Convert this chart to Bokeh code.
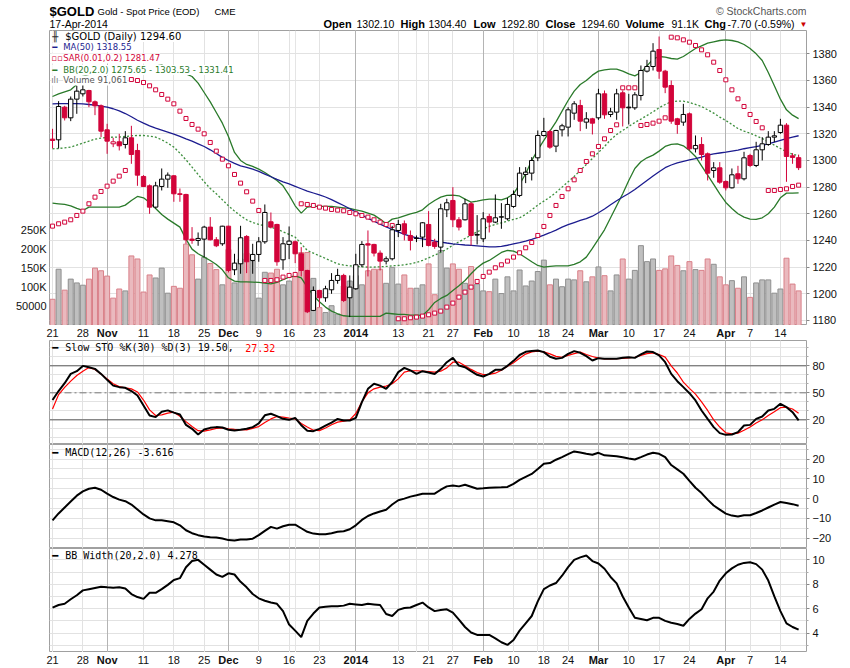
from bokeh.plotting import figure
from bokeh.models import Range1d, LinearAxis, FixedTicker, Label, Grid, Span
from bokeh.layouts import column
from bokeh.embed import file_html
from bokeh.resources import INLINE

# ---------------- data ----------------
opens = [1316, 1315.5, 1340, 1332, 1346, 1350, 1352.5, 1344, 1341, 1323,
         1312.5, 1314, 1312, 1317, 1307.5, 1288, 1281, 1265, 1280.5, 1286,
         1288.5, 1275, 1274.5, 1241, 1240, 1241, 1250, 1240.5, 1237.5, 1250.7,
         1218, 1222.5, 1243, 1225, 1229.5, 1239, 1254, 1252, 1225.5, 1237,
         1239, 1230, 1217.5, 1187.5, 1202.5, 1197, 1203, 1210, 1213.75, 1197,
         1203.75, 1221.75, 1237.5, 1237, 1230.5, 1224.5, 1226.25, 1247.5, 1252.5, 1243.75,
         1241.5, 1242.5, 1252, 1238.75, 1235, 1263, 1270, 1255.5, 1255.5, 1267.5,
         1244, 1241.25, 1258, 1253.75, 1257.5, 1256.25, 1265.5, 1273.75, 1289.5, 1290.5,
         1302, 1318.75, 1321.75, 1310.75, 1323, 1325, 1335.5, 1341.25, 1328.75, 1331.25,
         1332, 1350, 1334.5, 1336.25, 1350.75, 1339.5, 1339.5, 1348.75, 1367, 1370.5,
         1383.25, 1367, 1356.25, 1331.25, 1328.75, 1335, 1308.75, 1312, 1305, 1292.5,
         1294.5, 1284.25, 1279.5, 1290, 1286.25, 1303.75, 1296.25, 1308, 1312, 1317.5,
         1321, 1326.5, 1303.5, 1302.1]
highs = [1323.75, 1344.5, 1341, 1348, 1356, 1357, 1353, 1345, 1342, 1327.5,
         1317, 1320, 1322, 1326, 1312.5, 1289, 1282, 1284, 1294, 1291,
         1289, 1279, 1275, 1250, 1246, 1251, 1257.5, 1242.5, 1251, 1251,
         1230, 1251, 1244, 1237.5, 1242.5, 1267, 1261, 1252.5, 1242.5, 1250.5,
         1240, 1235, 1218, 1205.5, 1203, 1206, 1215.5, 1218.75, 1215, 1213.75,
         1230, 1239.5, 1247.5, 1237.5, 1232.5, 1228, 1251, 1255.5, 1255, 1247.5,
         1243.75, 1253.75, 1262, 1241.25, 1267.5, 1271.25, 1280, 1257.5, 1271.25, 1268.75,
         1259, 1261.25, 1260, 1274.5, 1268, 1272, 1277.5, 1295, 1295, 1302.5,
         1322.5, 1332, 1323, 1323, 1327.5, 1340, 1344.5, 1345.5, 1336.25, 1332,
         1353.75, 1352.5, 1339.5, 1353.75, 1352.5, 1350, 1351.25, 1371.25, 1375.5, 1388,
         1393, 1368, 1360, 1332, 1342.5, 1336, 1318.75, 1317.5, 1306, 1298.75,
         1298.75, 1285, 1294, 1296, 1306.5, 1305, 1314, 1317.5, 1322, 1322,
         1331.25, 1328, 1305.5, 1304.4]
lows = [1309, 1309, 1330, 1329.5, 1335, 1348, 1340, 1334, 1317.5, 1305,
        1310, 1307.5, 1309, 1297.5, 1281, 1280, 1260, 1264, 1277.5, 1279.5,
        1269, 1269, 1237.5, 1237.5, 1236, 1227.5, 1240, 1235, 1236, 1216,
        1214, 1215, 1215.5, 1215, 1224, 1237.5, 1249, 1221, 1218, 1226,
        1223, 1213, 1185.5, 1187, 1190, 1194, 1200, 1207.5, 1193.75, 1182.5,
        1203, 1220, 1213, 1228, 1217.5, 1222, 1225, 1242.5, 1240, 1232.5,
        1238.75, 1235, 1235.5, 1233.75, 1231.25, 1257.5, 1250, 1247.5, 1255, 1236.25,
        1237, 1238.75, 1246, 1253, 1248.75, 1255, 1264.5, 1272.5, 1283, 1285,
        1299.5, 1318, 1308.75, 1306.25, 1318, 1318, 1330.5, 1322, 1323.75, 1319.5,
        1330.5, 1331.25, 1332.5, 1330.5, 1325.5, 1327, 1338, 1345, 1366, 1367.5,
        1361.25, 1350.5, 1327.5, 1320, 1326, 1307.5, 1306, 1300, 1285, 1287,
        1282.5, 1277.5, 1279, 1282.5, 1285, 1295, 1295, 1300, 1311, 1313.75,
        1320, 1284, 1297.5, 1292.8]
closes = [1315, 1340.5, 1332, 1346, 1352, 1353, 1344, 1341, 1322, 1314.5,
          1314, 1311, 1317, 1304.5, 1289, 1280.5, 1265, 1281, 1286, 1289,
          1275, 1274.5, 1240.5, 1240, 1241.5, 1250, 1240.5, 1236, 1250.7, 1217.5,
          1223, 1242, 1224, 1229.5, 1239, 1261, 1250, 1224, 1237.5, 1239.5,
          1230, 1217.5, 1186.5, 1202.5, 1197, 1203.75, 1210, 1213.75, 1195, 1205,
          1221.75, 1237, 1236.5, 1230.5, 1224.5, 1226.25, 1248, 1252, 1245, 1240,
          1241.75, 1253.25, 1236.25, 1235.5, 1263.75, 1268.25, 1255.5, 1250, 1267.5, 1243.75,
          1244.5, 1256.25, 1253.75, 1257, 1257.75, 1267, 1274.5, 1290.5, 1291.25, 1300,
          1318.75, 1321.75, 1310, 1322.5, 1326, 1338, 1342.5, 1329.5, 1331.25, 1328,
          1350, 1334.25, 1336.5, 1350, 1339.5, 1340, 1349.25, 1367.5, 1370.5, 1382,
          1367, 1355, 1329.5, 1327, 1334.5, 1308.75, 1311.25, 1304.5, 1290.5, 1294.5,
          1283.75, 1279.5, 1289.25, 1286.25, 1302, 1296.25, 1308, 1312.5, 1317.5, 1318.5,
          1326.5, 1303, 1302.3, 1294.6]
volumes = [69000, 148000, 93000, 122000, 112000, 106000, 122000, 151000, 144000, 130000,
           72000, 96000, 91000, 183000, 175000, 88000, 133000, 125000, 151000, 85000,
           103000, 98000, 214000, 186000, 122000, 179000, 163000, 147000, 107000, 200000,
           112000, 175000, 190000, 170000, 72000, 140000, 138000, 148000, 107000, 117000,
           128000, 192000, 192000, 124000, 47000, 34000, 52000, 30000, 104000, 117000,
           131000, 107000, 144000, 148000, 148000, 111000, 153000, 109000, 133000, 98000,
           98000, 107000, 162000, 81000, 197000, 151000, 162000, 148000, 111000, 155000,
           109000, 91000, 89000, 122000, 84000, 128000, 91000, 146000, 104000, 117000,
           142000, 172000, 107000, 122000, 102000, 122000, 120000, 144000, 115000, 128000,
           154000, 131000, 91000, 133000, 175000, 122000, 145000, 210000, 168000, 175000,
           145000, 149000, 183000, 158000, 144000, 168000, 147000, 145000, 175000, 161000,
           128000, 107000, 118000, 98000, 128000, 74000, 112000, 120000, 120000, 85000,
           96000, 177000, 109000, 91061]
ma50 = [1342.5, 1342.6, 1342.7, 1342.7, 1342.6, 1342.4, 1342.0, 1341.5, 1340.8, 1340.0,
        1338.8, 1337.2, 1335.2, 1332.8, 1330.2, 1328.0, 1326.0, 1324.3, 1322.8, 1321.3,
        1319.8, 1318.0, 1316.2, 1314.5, 1312.5, 1310.5, 1308.0, 1305.2, 1302.3, 1300.0,
        1297.8, 1296.0, 1294.8, 1293.5, 1291.8, 1289.8, 1287.8, 1285.8, 1284.0, 1282.4,
        1280.6, 1278.8, 1277.0, 1275.6, 1274.2, 1272.6, 1270.6, 1268.4, 1266.2, 1263.8,
        1261.4, 1259.0, 1256.6, 1254.4, 1252.3, 1250.2, 1248.2, 1246.4, 1244.6, 1243.2,
        1242.0, 1241.2, 1240.4, 1239.5, 1238.8, 1238.1, 1237.5, 1237.0, 1236.6, 1236.3,
        1236.0, 1235.6, 1235.2, 1235.2, 1235.6, 1236.4, 1237.4, 1238.4, 1239.5, 1240.8,
        1242.3, 1244.0, 1245.8, 1247.8, 1250.0, 1251.8, 1253.4, 1255.0, 1256.4, 1258.2,
        1260.8, 1263.6, 1266.8, 1269.8, 1272.6, 1275.2, 1278.2, 1281.6, 1285.0, 1288.3,
        1291.6, 1294.6, 1296.6, 1298.2, 1299.4, 1300.4, 1301.4, 1302.6, 1304.0, 1305.0,
        1305.6, 1306.2, 1307.0, 1307.8, 1308.8, 1309.6, 1310.4, 1311.3, 1312.4, 1313.7,
        1315.0, 1316.3, 1317.5, 1318.55]
sar = [1250.75, 1252.5, 1253.75, 1255.5, 1258.75, 1262, 1267.5, 1272.5, 1276.75, 1280.75,
       1284.5, 1288.25, 1292.5, 1360.7, 1360, 1358.5, 1356, 1353, 1349.5, 1346,
       1342.5, 1337, 1331.5, 1327, 1323.5, 1320, 1313.5, 1307, 1301, 1296,
       1289.5, 1283, 1276.5, 1269.5, 1262.5, 1210, 1210, 1210.5, 1212.5, 1213.75,
       1214.5, 1267.5, 1267, 1266.25, 1265, 1264.25, 1263.25, 1262.75, 1262.25, 1261,
       1260, 1258.75, 1257.5, 1255.5, 1253.75, 1252, 1251.25, 1181.25, 1181.25, 1182,
       1182.5, 1183.25, 1184.25, 1185.5, 1187, 1190, 1193, 1197.5, 1201.25, 1205,
       1209.25, 1213, 1216.25, 1219.5, 1221.75, 1224.5, 1227.5, 1230.75, 1234.5, 1238.5,
       1243.75, 1250.5, 1258.75, 1266.25, 1273, 1278.75, 1285.5, 1292.5, 1299.25, 1305,
       1310.5, 1316.25, 1322.5, 1326.75, 1354.5, 1354.5, 1354.5, 1326.25, 1327, 1328,
       1329.5, 1332, 1392.5, 1392, 1390.5, 1388.75, 1386.25, 1383, 1379.25, 1373.75,
       1367.5, 1360.5, 1353, 1346.25, 1340.5, 1334.5, 1329.25, 1324.5, 1277.5, 1277.5,
       1278.25, 1278.75, 1280.5, 1281.47]
bb_upper = [1348, 1350, 1351.5, 1353, 1357, 1363, 1364.5, 1367, 1368.5, 1369.5,
            1370, 1370, 1369.5, 1367, 1364.5, 1365.5, 1368, 1371, 1371.5, 1370,
            1367, 1366, 1365, 1363, 1358, 1351, 1344, 1336, 1328, 1318,
            1306, 1300, 1297, 1295.5, 1293.5, 1291, 1288, 1285, 1281, 1274,
            1266, 1260.5, 1265, 1265.5, 1265.5, 1265.5, 1265.5, 1265, 1264.5, 1264,
            1263, 1262, 1260.5, 1259, 1256, 1252.5, 1256, 1257, 1258.5, 1260,
            1261, 1263, 1267, 1270, 1272.5, 1273.75, 1274, 1273.5, 1271, 1268.75,
            1269.5, 1270.5, 1271, 1271, 1270.5, 1272, 1275, 1282, 1290, 1300,
            1308, 1315, 1322, 1329, 1337, 1345, 1352, 1357, 1360, 1364,
            1367, 1368, 1368.5, 1368.5, 1367, 1365, 1363.5, 1366, 1371, 1376,
            1378, 1377.5, 1376.5, 1376, 1378, 1381, 1384, 1386, 1388, 1389,
            1390, 1390.5, 1390, 1389, 1387, 1384, 1380, 1375, 1366, 1356,
            1346, 1338, 1334, 1331.41]
bb_middle = [1308.75, 1309, 1309.5, 1310, 1311.5, 1313, 1314.5, 1316, 1316.75, 1317.25,
             1317.5, 1317.5, 1318, 1318.5, 1318.75, 1318.75, 1318.25, 1317.5, 1315.5, 1313,
             1310, 1305.5, 1300.5, 1295, 1289.5, 1284, 1279, 1275, 1270.5, 1266,
             1262, 1258.5, 1255.5, 1253.5, 1252, 1251, 1250, 1248.5, 1246.5, 1244.5,
             1242.5, 1237.5, 1232.5, 1230.5, 1228.5, 1226.5, 1224.5, 1222.5, 1221.5, 1221,
             1220.5, 1220.25, 1220, 1220, 1220.25, 1220.5, 1221, 1221.25, 1221.75, 1222.5,
             1223.5, 1225, 1227, 1229, 1231, 1233.5, 1236.5, 1239, 1241.5, 1244,
             1246.5, 1248.5, 1250.5, 1252, 1253.25, 1254.5, 1255.75, 1257, 1259.5, 1263,
             1266.5, 1269.5, 1272.5, 1276, 1280, 1284, 1288, 1292.5, 1297, 1301.5,
             1306, 1310.5, 1315.5, 1319.5, 1322.5, 1325.5, 1328.5, 1331, 1333.75, 1336.5,
             1339.5, 1342, 1344, 1344.5, 1344.5, 1343.5, 1342, 1340.5, 1338, 1335.5,
             1332.5, 1330, 1327, 1324, 1322, 1320.5, 1318.5, 1316.5, 1314, 1311.5,
             1309, 1306.5, 1304.75, 1303.53]
bb_lower = [1268, 1267.5, 1267, 1266, 1264, 1262.5, 1265, 1265, 1265, 1265,
            1265, 1265, 1266.5, 1270, 1273, 1272, 1268.5, 1264, 1259.5, 1256,
            1253, 1250, 1241, 1233.5, 1230, 1227.5, 1225, 1222, 1218, 1212,
            1209.5, 1209, 1209, 1208.75, 1208.5, 1208, 1207.5, 1208.5, 1210.5, 1212.5,
            1213.5, 1212, 1205, 1198.75, 1194, 1190, 1187, 1185, 1183.5, 1183,
            1183, 1183, 1183, 1183, 1183, 1185.5, 1185, 1184.5, 1184.5, 1184,
            1184, 1183.75, 1188, 1193.5, 1196.5, 1198.75, 1202.5, 1206, 1210, 1215,
            1219.5, 1223, 1225, 1228, 1231, 1232.5, 1232, 1230, 1227, 1224,
            1221.25, 1220, 1220.5, 1221, 1221, 1221, 1222, 1224, 1227.5, 1234,
            1241, 1248, 1257, 1266, 1275, 1285, 1294, 1299, 1302, 1304,
            1307, 1310.5, 1312, 1312.5, 1311, 1307.5, 1303, 1296, 1289, 1282,
            1275, 1268.5, 1264, 1260, 1257.5, 1256, 1255.75, 1257, 1260, 1265,
            1272, 1275.5, 1275.5, 1275.65]
sto_k = [42, 52, 60.7, 71, 74, 79.9, 78.4, 76.6, 71, 64.4,
         58, 56.3, 55.5, 52, 47, 36, 24.8, 23, 29, 30.5,
         28, 25.9, 14.4, 10, 3.7, 9.3, 11.1, 11.9, 11.5, 9,
         8.1, 9, 10, 11.9, 16, 25, 26.7, 24.1, 21.1, 20,
         22.2, 14, 8, 7.4, 10, 13.5, 17, 21, 19.3, 19.3,
         22.2, 39.6, 54.4, 60, 58, 54.4, 62, 73, 77.7, 74.8,
         71, 74, 72.5, 71, 76.6, 84, 88.8, 80.3, 78.4, 74,
         70, 68.1, 71, 75.5, 75.5, 80, 85.5, 92, 95.5, 96.5,
         97, 95.2, 90, 87.8, 88.8, 93.3, 96.3, 94.4, 90.7, 85.9,
         88.5, 87.8, 87.8, 87.8, 89, 89.6, 88.8, 92.6, 95.9, 95.2,
         91.5, 84, 71, 62.9, 56.3, 49.6, 41.5, 30.4, 21.1, 11.9,
         5.2, 3.3, 3.7, 6.3, 13.7, 14.4, 21.1, 23.7, 30.4, 32.2,
         37.8, 34.1, 28.5, 19.5]
sto_d = [32, 48, 56, 63, 69.3, 74, 78, 76, 71, 65.5,
         60, 56.9, 55.5, 54.4, 51, 42, 31, 24.8, 25.5, 27.5,
         28.5, 24, 18, 12.5, 8, 7.5, 8.9, 10.5, 11.1, 10,
         9.5, 9.2, 8.9, 10.5, 12.5, 17, 21, 23.7, 23, 22,
         21.1, 16, 12, 8.5, 8, 11, 14.5, 17.5, 18.5, 20,
         27, 40, 50, 54.4, 56.3, 57.5, 60, 65.5, 73, 74.5,
         74.5, 74, 73.5, 73, 74, 77.7, 84, 84, 80, 76,
         72.5, 70.3, 70.5, 71.8, 75, 79.5, 83.5, 88.5, 93, 95.5,
         96.3, 95.5, 93.3, 90.5, 89.5, 91.5, 93.5, 95.2, 92.5, 90.3,
         88.5, 87.8, 87.8, 88, 88.3, 88.8, 89.5, 91.5, 93.5, 94.4,
         92.5, 89.6, 80, 72, 61.8, 55, 48.5, 40, 30.4, 20,
         12, 5.6, 4.5, 5.2, 8.5, 12, 16.5, 20, 24.8, 29,
         33.5, 34, 32, 27.32]
macd = [-11, -7.5, -4.5, -1.5, 1.5, 3.7, 5, 5.5, 4.5, 2.5,
        0.8, -0.5, -1.3, -3, -5.5, -8, -10, -11, -11, -11.5,
        -12, -13.5, -16, -17.5, -18.5, -19.2, -19.6, -19.7, -20.2, -21,
        -21.2, -20.7, -20.7, -20.3, -18.5, -16.3, -14.3, -15.2, -14, -13.2,
        -13.2, -15, -16.8, -17.7, -18, -18, -17.5, -16.8, -16.5, -15.5,
        -13.5, -10.8, -8.8, -7.5, -6.5, -5.6, -3, -0.8, 0, 1,
        1.7, 2.5, 2.5, 2.5, 4.5, 6.2, 6.7, 6.2, 7, 6,
        5, 5.2, 5.5, 5.6, 5.7, 5.9, 7.5, 9.5, 11, 12.5,
        15, 17.7, 18, 19.7, 21, 22.5, 23.9, 23.3, 22.7, 22.2,
        23.2, 21.9, 21.7, 21.5, 20.9, 20.3, 19.8, 21, 22.3, 23.2,
        22.7, 21, 17, 14.8, 12.6, 9, 5.5, 2.8, -0.5, -3.5,
        -5.6, -7.6, -8.6, -9, -8.4, -8.4, -7.3, -6, -4.5, -3,
        -1.7, -2.2, -2.8, -3.616]
bb_width = [6.09, 6.3, 6.4, 6.77, 7.1, 7.5, 7.6, 7.7, 7.8, 7.75,
            7.72, 7.76, 7.65, 7.2, 6.95, 6.8, 7.3, 7.3, 7.6, 7.95,
            8.35, 8.5, 9.4, 9.9, 10.0, 9.6, 9.2, 8.8, 8.6, 8.9,
            8.8, 8.2, 7.75, 7.2, 6.85, 6.65, 6.5, 6.4, 5.8, 4.7,
            4.2, 3.67, 5.0, 5.6, 6.1, 6.15, 6.2, 6.2, 6.25, 6.4,
            6.35, 6.3, 6.4, 6.35, 6.3, 5.56, 5.4, 5.9, 6.05, 6.1,
            6.3, 6.5, 6.1, 5.8, 5.9, 5.95, 5.67, 5.1, 4.5, 4.05,
            3.85, 3.85, 3.85, 3.57, 3.25, 3.03, 3.44, 4.2, 4.8, 5.4,
            6.6, 7.6, 7.9, 8.1, 8.7, 9.4, 10.0, 10.2, 10.35, 9.9,
            9.7, 9.27, 8.6, 8.07, 7.0, 6.1, 5.25, 5.16, 5.05, 5.25,
            5.25, 5.0, 4.85, 4.75, 4.6, 5.16, 5.6, 5.95, 6.85, 7.4,
            8.3, 8.9, 9.3, 9.6, 9.75, 9.8, 9.65, 9.2, 8.3, 7.0,
            5.8, 4.8, 4.5, 4.278]

tick_pos = [0, 5, 9, 15, 20, 25, 29, 34, 39, 44, 50, 57, 62, 66, 71, 76, 81, 85,
            90, 95, 100, 105, 111, 115, 120]
tick_labels = ["21", "28", "Nov", "11", "18", "25", "Dec", "9", "16", "23", "2014",
               "13", "21", "27", "Feb", "10", "18", "24", "Mar", "10", "17", "24",
               "Apr", "7", "14"]
month_pos = [9, 29, 50, 71, 90, 111]
price_ticks = [1180, 1200, 1220, 1240, 1260, 1280, 1300, 1320, 1340, 1360, 1380]
volume_ticks = [50000, 100000, 150000, 200000, 250000]
volume_tick_labels = ["50000", "100K", "150K", "200K", "250K"]
sto_ticks = [20, 50, 80]
macd_ticks = [-20, -10, 0, 10, 20]
bbw_ticks = [4, 6, 8, 10]

# ---------------- styling ----------------
RED = "#d2043a"
BLACK = "#000000"
NAVY = "#1c1c8f"
GREEN = "#2a7a2a"
GRID_C = "#e2e2e2"
MONTH_C = "#b4b4b4"
OUTLINE = "#a0a0a0"
VOL_PINK, VOL_PINK_EDGE = "#eab9be", "#d98089"
VOL_GRAY, VOL_GRAY_EDGE = "#bfbfbf", "#8f8f8f"
AX_FONT = "Liberation Sans"

N = len(closes)
days = list(range(N))
prev_close = [opens[0]] + closes[:-1]
up = [c >= p for c, p in zip(closes, prev_close)]
c_color = [BLACK if u else RED for u in up]
b_fill = ["white" if c > o else col for o, c, col in zip(opens, closes, c_color)]
b_top = [max(o, c) for o, c in zip(opens, closes)]
b_bot = [min(o, c) for o, c in zip(opens, closes)]
v_fill = [VOL_GRAY if u else VOL_PINK for u in up]
v_edge = [VOL_GRAY_EDGE if u else VOL_PINK_EDGE for u in up]

FW, BL, BR = 757, 49, 40
X0, X1 = -0.5, 124.3
xr = Range1d(X0, X1)


def xi(px):
    return (px - 52.3) / 6.068


def base_fig(frame_h, yr, x_range, yaxis, fw=FW, bl=BL, br=BR):
    p = figure(frame_width=fw, frame_height=frame_h, x_range=x_range, y_range=yr,
               x_axis_location=None, y_axis_location="right" if yaxis else None,
               toolbar_location=None, output_backend="svg",
               min_border_left=bl, min_border_right=br,
               min_border_top=0, min_border_bottom=0)
    p.background_fill_color = "white"
    p.border_fill_color = "white"
    return p


def make_panel(frame_h, yr):
    p = base_fig(frame_h, yr, xr, True)
    p.outline_line_color = OUTLINE
    p.add_layout(Grid(dimension=0, ticker=FixedTicker(ticks=tick_pos),
                      grid_line_color=GRID_C))
    p.add_layout(Grid(dimension=0, ticker=FixedTicker(ticks=month_pos),
                      grid_line_color=MONTH_C))
    ya = p.yaxis[0]
    ya.axis_line_color = None
    ya.major_tick_out = 3
    ya.major_tick_in = 0
    ya.minor_tick_out = 2
    ya.minor_tick_in = 0
    ya.major_tick_line_color = "#888888"
    ya.minor_tick_line_color = "#aaaaaa"
    ya.major_label_text_font = AX_FONT
    ya.major_label_text_font_size = "11px"
    ya.major_label_text_color = "#111111"
    ya.major_label_standoff = 3
    p.ygrid.grid_line_color = GRID_C
    p.ygrid.minor_grid_line_color = GRID_C
    return p


def make_band(h, ymid):
    # date labels band (between panels); same x scale as the panels but a
    # frame widened 10 px to the left so that the first label is not clipped
    ext = 10
    per_px = (X1 - X0) / FW
    b = base_fig(h, Range1d(0, h), Range1d(X0 - ext * per_px, X1), False,
                 fw=FW + ext, bl=BL - ext, br=BR)
    b.frame_align = False
    b.outline_line_color = None
    b.grid.visible = False
    for t, lab in zip(tick_pos, tick_labels):
        b.add_layout(Label(x=t, y=ymid, text=lab, text_align="center",
                           text_baseline="middle", text_font=AX_FONT,
                           text_font_style="bold" if t in month_pos else "normal",
                           text_font_size="11px", text_color="#111111"))
    return b


# ---------------- header ----------------
HH = 30
head = base_fig(HH, Range1d(HH, 0), Range1d(BL, BL + FW), False)
head.outline_line_color = None
head.grid.visible = False


def htext(x, y, t, size="11px", bold=False, color="#000000", align="left"):
    head.add_layout(Label(x=x, y=y, text=t, text_font=AX_FONT, text_font_size=size,
                          text_font_style="bold" if bold else "normal",
                          text_color=color, text_align=align,
                          text_baseline="middle"))


htext(49, 10.5, "$GOLD", size="13px", bold=True)
htext(97, 11, "Gold - Spot Price (EOD)", size="9.5px")
htext(214, 11, "CME", size="9.5px")
htext(806, 10, "\u00a9 StockCharts.com", size="10.5px", color="#555555", align="right")
htext(49, 23, "17-Apr-2014", size="10.5px")
for x, t, b in [(323, "Open", True), (356, "1302.10", False), (400, "High", True),
                (428, "1304.40", False), (473, "Low", True), (501, "1292.80", False),
                (545, "Close", True), (581, "1294.60", False), (625, "Volume", True),
                (671, "91.1K", False), (704, "Chg", True), (727, "-7.70 (-0.59%)", False)]:
    htext(x, 23, t, size="11px" if b else "10.5px", bold=b)
htext(799, 23.5, "\u25bc", size="8px", color="#cc0000")

# ---------------- main price panel ----------------
main = make_panel(295, Range1d(1176.2, 1397.5))
main.yaxis[0].ticker = FixedTicker(ticks=price_ticks, minor_ticks=[])
main.extra_y_ranges = {"vol": Range1d(0, 776000)}
vax = LinearAxis(y_range_name="vol",
                 ticker=FixedTicker(ticks=volume_ticks, minor_ticks=[]),
                 major_label_overrides=dict(zip(volume_ticks, volume_tick_labels)))
vax.axis_line_color = None
vax.major_tick_in = 0
vax.major_tick_out = 0
vax.major_label_standoff = 3
vax.major_label_text_font = AX_FONT
vax.major_label_text_font_size = "11px"
vax.major_label_text_color = "#111111"
main.add_layout(vax, "left")

main.vbar(x=days, width=0.82, top=volumes, bottom=0, y_range_name="vol",
          fill_color=v_fill, line_color=v_edge, line_width=1)
main.line(days, bb_upper, line_color=GREEN, line_width=1.3)
main.line(days, bb_lower, line_color=GREEN, line_width=1.3)
main.line(days, bb_middle, line_color="#3d8f3d", line_width=1.3, line_dash="2 2")
main.line(days, ma50, line_color=NAVY, line_width=1.3)
main.scatter(days, sar, marker="square", size=4, fill_color="white",
             line_color=RED, line_width=1)
main.segment(x0=days, y0=highs, x1=days, y1=lows, line_color=c_color, line_width=1)
main.vbar(x=days, width=0.72, top=b_top, bottom=b_bot, fill_color=b_fill,
          line_color=c_color, line_width=1)


def legend_line(p, px, y, t, color, font="DejaVu Sans", size="8.5px", bg=True):
    p.add_layout(Label(x=xi(px), y=y, text=t, text_font=font, text_font_size=size,
                       text_color=color, text_baseline="middle",
                       background_fill_color="white" if bg else None))


legend_line(main, 52, 1393, "\u256b", "#333333", size="10px")
legend_line(main, 65, 1393, "$GOLD (Daily) 1294.60", BLACK, size="10px")
legend_line(main, 52, 1384.75, "\u2501", NAVY)
legend_line(main, 63, 1384.75, "MA(50) 1318.55", NAVY)
legend_line(main, 51, 1376.5, "\u25ab\u25ab", RED)
legend_line(main, 63, 1376.5, "SAR(0.01,0.2) 1281.47", RED)
legend_line(main, 52, 1367.9, "\u2501", GREEN)
legend_line(main, 63, 1367.9, "BB(20,2.0) 1275.65 - 1303.53 - 1331.41", GREEN)
legend_line(main, 51, 1360, "\u0131l\u0131", "#777777")
legend_line(main, 63, 1360, "Volume 91,061", "#555555")

band1 = make_band(15, 7.5)

# ---------------- slow stochastic ----------------
sto = make_panel(104, Range1d(-7.4, 108.1))
sto.yaxis[0].ticker = FixedTicker(ticks=sto_ticks, minor_ticks=[0, 10, 30, 40, 60, 70, 90, 100])
for lv in (80, 20):
    sto.add_layout(Span(location=lv, dimension="width", line_color="#5a5a5a",
                        line_width=1, level="underlay"))
sto.add_layout(Span(location=50, dimension="width", line_color="#7a7a7a",
                    line_width=1, line_dash="7 3 2 3", level="underlay"))
sto.line(days, sto_d, line_color="#ff0000", line_width=1.2)
sto.line(days, sto_k, line_color=BLACK, line_width=2)
legend_line(sto, 52, 100, "\u2501", BLACK, font="DejaVu Sans Mono", size="10px", bg=False)
legend_line(sto, 65, 100, "Slow STO %K(30) %D(3) 19.50,", BLACK,
            font="DejaVu Sans Mono", size="10px", bg=False)
legend_line(sto, 245, 100, "27.32", "#ff0000", font="DejaVu Sans Mono",
            size="10px", bg=False)

# ---------------- MACD ----------------
mac = make_panel(104, Range1d(-25.25, 27.4))
mac.yaxis[0].ticker = FixedTicker(ticks=macd_ticks, minor_ticks=[-25, -15, -5, 5, 15, 25])
mac.line(days, macd, line_color=BLACK, line_width=2)
legend_line(mac, 52, 23.5, "\u2501", BLACK, font="DejaVu Sans Mono", size="10px", bg=False)
legend_line(mac, 65, 23.5, "MACD(12,26) -3.616", BLACK, font="DejaVu Sans Mono",
            size="10px", bg=False)

# ---------------- BB width ----------------
bbw = make_panel(104, Range1d(2.41, 10.93))
bbw.yaxis[0].ticker = FixedTicker(ticks=bbw_ticks, minor_ticks=[3, 5, 7, 9])
bbw.line(days, bb_width, line_color=BLACK, line_width=2)
legend_line(bbw, 52, 10.35, "\u2501", BLACK, font="DejaVu Sans Mono", size="10px", bg=False)
legend_line(bbw, 65, 10.35, "BB Width(20,2.0) 4.278", BLACK, font="DejaVu Sans Mono",
            size="10px", bg=False)

band2 = make_band(14, 7)

p = column(head, main, band1, sto, mac, bbw, band2, spacing=0)
open("out.html", "w").write(file_html(p, INLINE))
